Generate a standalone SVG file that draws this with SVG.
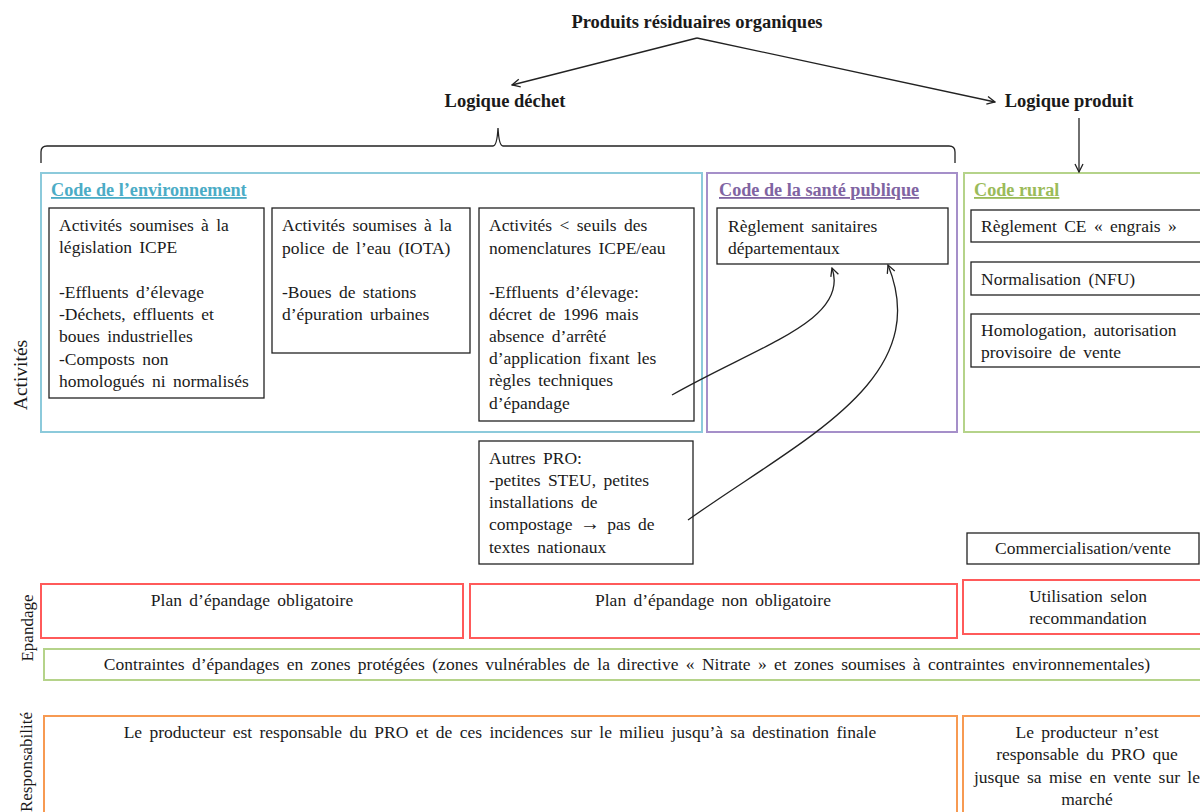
<svg xmlns="http://www.w3.org/2000/svg" width="1200" height="812" viewBox="0 0 1200 812">
<style>
text{font-family:"Liberation Serif","Times New Roman",serif;font-size:17.5px;word-spacing:3px;fill:#1a1a1a}
.b{font-weight:bold;font-size:18.5px;word-spacing:0}
.h{font-weight:bold;text-decoration:underline;font-size:18.2px;word-spacing:0}
.c{text-anchor:middle}
.box{fill:#fff;stroke:#222;stroke-width:1.3}
.blue{fill:none;stroke:#8ccadb;stroke-width:2}
.purple{fill:none;stroke:#a58fc9;stroke-width:2}
.green{fill:none;stroke:#b5d38a;stroke-width:2}
.red{fill:none;stroke:#ff5a5a;stroke-width:2}
.orange{fill:none;stroke:#f79a52;stroke-width:2}
.ln{fill:none;stroke:#222;stroke-width:1.3}
</style>
<defs>
<marker id="ah" viewBox="0 0 10 10" refX="9" refY="5" markerWidth="10" markerHeight="10" markerUnits="userSpaceOnUse" orient="auto">
<path d="M1,1 L9,5 L1,9" fill="none" stroke="#222" stroke-width="1.3"/>
</marker>
</defs>
<rect width="1200" height="812" fill="#fff"/>

<g id="title"><text x="697" y="28" class="b c">Produits résiduaires organiques</text></g>
<g id="logique-dechet"><text x="505" y="107" class="b c">Logique déchet</text></g>
<g id="logique-produit"><text x="1069" y="107" class="b c">Logique produit</text></g>

<g id="code-environnement">
<rect x="41" y="173" width="661" height="259" class="blue"/>
<text x="51" y="196" class="h" style="fill:#4bacc6">Code de l’environnement</text>
</g>
<g id="icpe">
<rect x="49" y="208" width="215" height="190" class="box"/>
<text x="59" y="231">Activités soumises à la</text>
<text x="59" y="253">législation ICPE</text>
<text x="59" y="298">-Effluents d’élevage</text>
<text x="59" y="320">-Déchets, effluents et</text>
<text x="59" y="342">boues industrielles</text>
<text x="59" y="365">-Composts non</text>
<text x="59" y="387">homologués ni normalisés</text>
</g>
<g id="iota">
<rect x="272" y="208" width="198" height="145" class="box"/>
<text x="282" y="231">Activités soumises à la</text>
<text x="282" y="254">police de l’eau (IOTA)</text>
<text x="282" y="298">-Boues de stations</text>
<text x="282" y="320">d’épuration urbaines</text>
</g>
<g id="seuils">
<rect x="479" y="208" width="215" height="213" class="box"/>
<text x="489" y="231">Activités &lt; seuils des</text>
<text x="489" y="254">nomenclatures ICPE/eau</text>
<text x="489" y="298">-Effluents d’élevage:</text>
<text x="489" y="320">décret de 1996 mais</text>
<text x="489" y="342">absence d’arrêté</text>
<text x="489" y="364">d’application fixant les</text>
<text x="489" y="386">règles techniques</text>
<text x="489" y="409">d’épandage</text>
</g>

<g id="code-sante">
<rect x="707" y="173" width="250" height="259" class="purple"/>
<text x="719" y="196" class="h" style="fill:#8064a2">Code de la santé publique</text>
</g>
<g id="reglement-sanitaire">
<rect x="717" y="208" width="231" height="56" class="box"/>
<text x="728" y="232">Règlement sanitaires</text>
<text x="728" y="254">départementaux</text>
</g>

<g id="code-rural">
<rect x="964" y="173" width="240" height="259" class="green"/>
<text x="974" y="196" class="h" style="fill:#9bbb59">Code rural</text>
</g>
<g id="engrais">
<rect x="971" y="210" width="233" height="32" class="box"/>
<text x="981" y="232">Règlement CE « engrais »</text>
</g>
<g id="nfu">
<rect x="971" y="262" width="233" height="33" class="box"/>
<text x="981" y="285">Normalisation (NFU)</text>
</g>
<g id="homologation">
<rect x="971" y="314" width="233" height="53" class="box"/>
<text x="981" y="336">Homologation, autorisation</text>
<text x="981" y="358">provisoire de vente</text>
</g>

<g id="autres-pro">
<rect x="479" y="441" width="214" height="123" class="box"/>
<text x="489" y="464">Autres PRO:</text>
<text x="489" y="486">-petites STEU, petites</text>
<text x="489" y="508">installations de</text>
<text x="489" y="530">compostage <tspan font-weight="bold" font-size="20">→</tspan> pas de</text>
<text x="489" y="553">textes nationaux</text>
</g>
<g id="commercialisation">
<rect x="967" y="533" width="232" height="31" class="box"/>
<text x="1083" y="554" class="c">Commercialisation/vente</text>
</g>

<g id="label-activites"><text transform="translate(27,375) rotate(-90)" class="c" style="font-size:19.5px">Activités</text></g>
<g id="label-epandage"><text transform="translate(33,628) rotate(-90)" class="c" style="font-size:17px">Epandage</text></g>
<g id="label-responsabilite"><text transform="translate(32,762) rotate(-90)" class="c" style="font-size:17px">Responsabilité</text></g>

<g id="plan-obligatoire">
<rect x="41" y="584" width="422" height="54" class="red"/>
<text x="252" y="606" class="c">Plan d’épandage obligatoire</text>
</g>
<g id="plan-non-obligatoire">
<rect x="470" y="584" width="487" height="54" class="red"/>
<text x="713" y="606" class="c">Plan d’épandage non obligatoire</text>
</g>
<g id="utilisation">
<rect x="963" y="580" width="241" height="54" class="red"/>
<text x="1088" y="602" class="c">Utilisation selon</text>
<text x="1088" y="624" class="c">recommandation</text>
</g>
<g id="contraintes">
<rect x="44" y="649" width="1160" height="31" class="green"/>
<text x="627" y="670" class="c">Contraintes d’épandages en zones protégées (zones vulnérables de la directive « Nitrate » et zones soumises à contraintes environnementales)</text>
</g>

<g id="resp-dechet">
<rect x="44" y="716" width="913" height="100" class="orange"/>
<text x="500" y="738" class="c">Le producteur est responsable du PRO et de ces incidences sur le milieu jusqu’à sa destination finale</text>
</g>
<g id="resp-produit">
<rect x="963" y="716" width="241" height="100" class="orange"/>
<text x="1087" y="738" class="c">Le producteur n’est</text>
<text x="1087" y="760" class="c">responsable du PRO que</text>
<text x="1087" y="783" class="c">jusque sa mise en vente sur le</text>
<text x="1087" y="805" class="c">marché</text>
</g>

<g id="connectors">
<path class="ln" d="M697,38 L512,85" marker-end="url(#ah)"/>
<path class="ln" d="M697,38 L995,102" marker-end="url(#ah)"/>
<path class="ln" d="M1079,118 L1079,172" marker-end="url(#ah)"/>
<path class="ln" d="M41,163 L41,152 Q41,146 47,146 L493,146 Q497,146 498,128 Q499,146 503,146 L949,146 Q955,146 955,152 L955,163"/>
<path class="ln" d="M672,395 C760,345 850,320 832,268" marker-end="url(#ah)"/>
<path class="ln" d="M688,520 C800,440 935,380 888,265" marker-end="url(#ah)"/>
</g>
</svg>
